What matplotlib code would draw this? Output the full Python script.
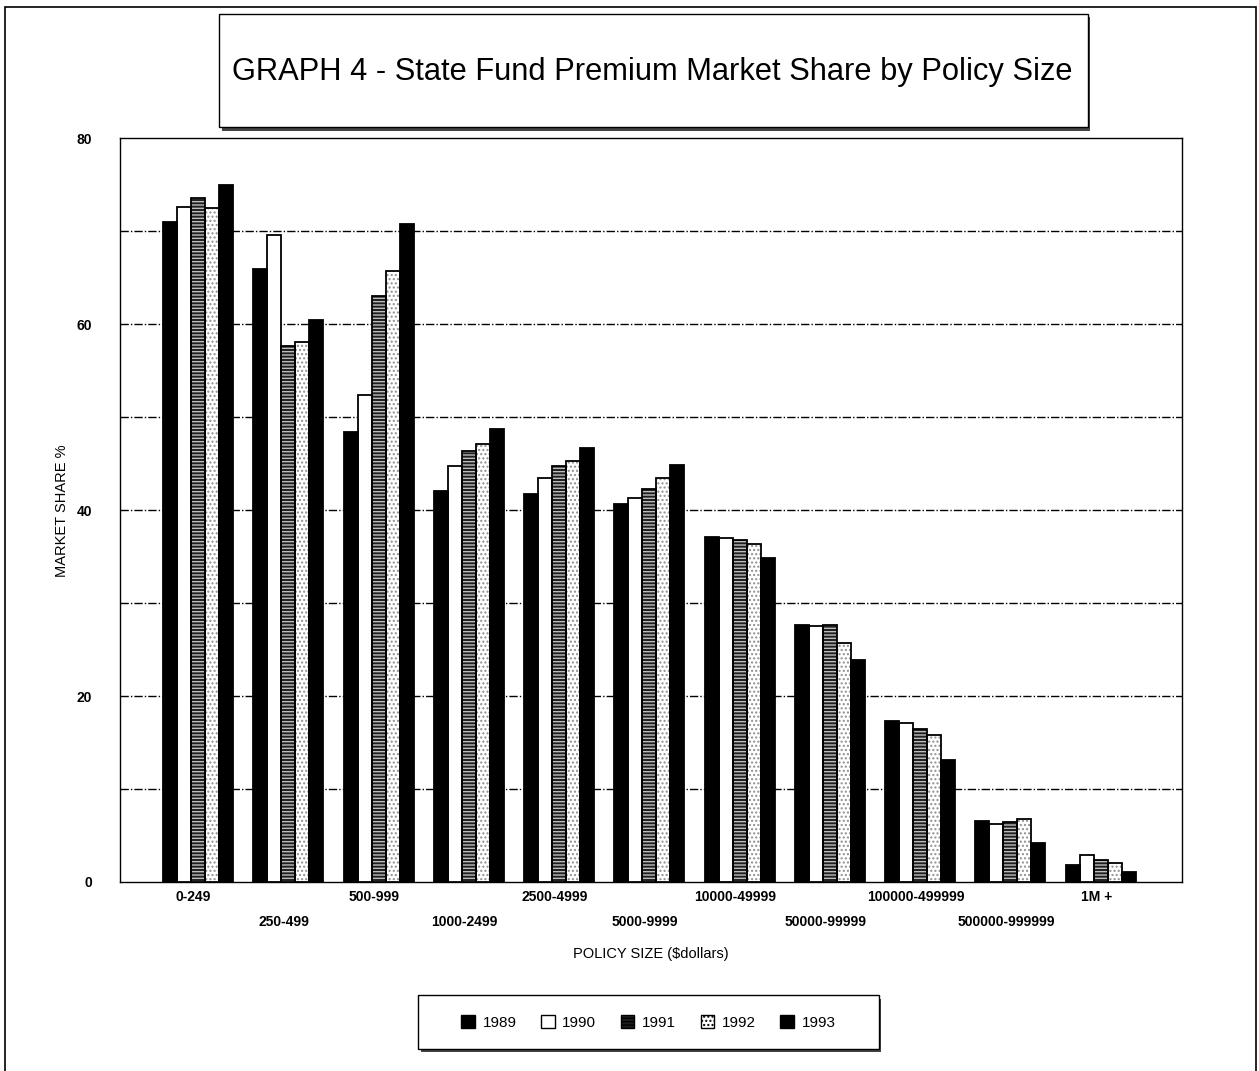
import numpy as np
import matplotlib
matplotlib.use("Agg")
import matplotlib.pyplot as plt
from matplotlib.patches import Rectangle, Patch

plt.rcParams['font.family'] = ['Liberation Sans', 'DejaVu Sans']
plt.rcParams['hatch.linewidth'] = 1.0

# data
sizes = ["0-249", "250-499", "500-999", "1000-2499", "2500-4999", "5000-9999",
         "10000-49999", "50000-99999", "100000-499999", "500000-999999", "1M +"]
years = ["1989", "1990", "1991", "1992", "1993"]
share_1989 = [71.0, 65.9, 48.4, 42.0, 41.7, 40.7, 37.1, 27.6, 17.3, 6.6, 1.8]
share_1990 = [72.6, 69.6, 52.4, 44.7, 43.4, 41.3, 37.0, 27.5, 17.1, 6.2, 2.9]
share_1991 = [73.6, 57.6, 63.0, 46.3, 44.7, 42.3, 36.8, 27.6, 16.4, 6.5, 2.4]
share_1992 = [72.5, 58.1, 65.7, 47.1, 45.3, 43.4, 36.3, 25.7, 15.8, 6.8, 2.0]
share_1993 = [75.0, 60.4, 70.8, 48.7, 46.7, 44.9, 34.8, 23.9, 13.1, 4.2, 1.1]
series = [share_1989, share_1990, share_1991, share_1992, share_1993]

# face, hatch colour, hatch
styles = [
    ("black", "black", None),
    ("white", "white", None),
    ("#1e1e1e", "#bdbdbd", "-----"),
    ("white", "#909090", "...."),
    ("black", "black", None),
]

fig = plt.figure(figsize=(12.59, 10.71), dpi=100)
ax = fig.add_axes([0.0953, 0.1765, 0.8435, 0.6945])

x = np.arange(len(sizes))
w = 0.155
for i, vals in enumerate(series):
    face, hcol, hatch = styles[i]
    pos = x + (i - 2) * w
    ax.bar(pos, vals, width=w, color=face, edgecolor=hcol, hatch=hatch,
           linewidth=0, zorder=3)
    ax.bar(pos, vals, width=w, fill=False, edgecolor="black", linewidth=1.3,
           zorder=4)

ax.set_xlim(-0.865, 10.9)
ax.set_ylim(0, 80)
ax.set_yticks([0, 20, 40, 60, 80])
for g in range(10, 80, 10):
    ax.axhline(g, color="black", linewidth=1.0, linestyle=(0, (6, 1.5, 1, 1.5)),
               zorder=1)
ax.tick_params(axis="y", length=0, pad=20, labelsize=10)
for t in ax.get_yticklabels():
    t.set_fontweight("bold")

ax.set_xticks(x)
ax.set_xticklabels(["" for _ in sizes])
ax.tick_params(axis="x", length=0)
for i, lab in enumerate(sizes):
    off = 0.0 if i % 2 == 0 else -0.034
    ax.text(x[i] - 0.05, -0.011 + off, lab, transform=ax.get_xaxis_transform(),
            ha="center", va="top", fontsize=10, fontweight="bold")

for s in ax.spines.values():
    s.set_linewidth(1.0)

ax.text(0.5, -0.088, "POLICY SIZE ($dollars)", transform=ax.transAxes,
        ha="center", va="top", fontsize=10.5)
fig.text(0.049, 0.5235, "MARKET SHARE %", rotation=90, ha="center",
         va="center", fontsize=10.5)

# outer frame
fig.patches.append(Rectangle((0.004, -0.01), 0.994, 1.003, transform=fig.transFigure,
                             fill=False, edgecolor="black", linewidth=1.2))

# title box with shadow
tb = (0.174, 0.881, 0.690, 0.106)
fig.patches.append(Rectangle((tb[0] + 0.002, tb[1] - 0.003), tb[2], tb[3],
                             transform=fig.transFigure, facecolor="#444444",
                             edgecolor="none"))
fig.patches.append(Rectangle(tb[:2], tb[2], tb[3], transform=fig.transFigure,
                             facecolor="white", edgecolor="black", linewidth=1.0))
fig.text(tb[0] + tb[2] / 2 - 0.001, tb[1] + tb[3] / 2 - 0.001,
         "GRAPH 4 - State Fund Premium Market Share by Policy Size",
         ha="center", va="center", fontsize=22.2)

# legend box with shadow
lb = (0.332, 0.0205, 0.366, 0.050)
fig.patches.append(Rectangle((lb[0] + 0.002, lb[1] - 0.003), lb[2], lb[3],
                             transform=fig.transFigure, facecolor="#444444",
                             edgecolor="none"))
fig.patches.append(Rectangle(lb[:2], lb[2], lb[3], transform=fig.transFigure,
                             facecolor="white", edgecolor="black", linewidth=1.0))
handles = []
for i, yr in enumerate(years):
    face, hcol, hatch = styles[i]
    handles.append(Patch(facecolor=face, edgecolor="black", hatch=hatch,
                         linewidth=1.0, label=yr))
fig.legend(handles=handles, loc="center", ncol=5,
           bbox_to_anchor=(lb[0] + lb[2] / 2, lb[1] + lb[3] / 2),
           frameon=False, fontsize=11, handlelength=0.9, handleheight=0.9,
           handletextpad=0.5, columnspacing=1.6)

fig.savefig("out.png", dpi=100)
